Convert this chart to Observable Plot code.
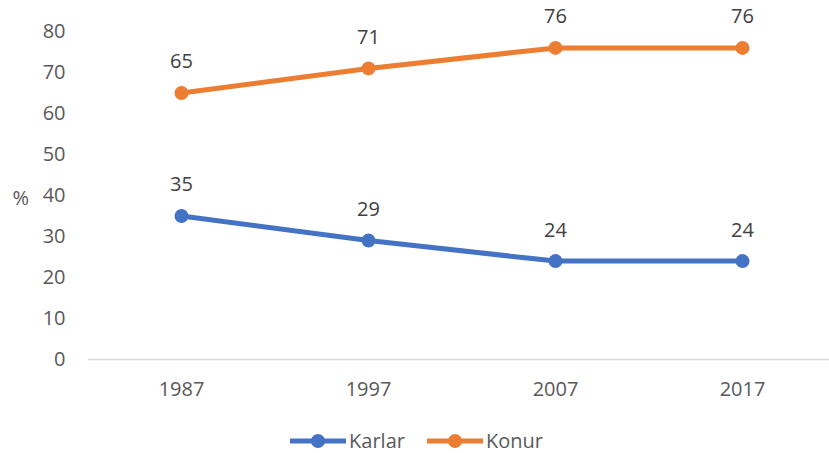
<!DOCTYPE html>
<html><head><meta charset="utf-8">
<script src="https://cdn.jsdelivr.net/npm/d3@7"></script>
<script src="https://cdn.jsdelivr.net/npm/@observablehq/plot@0.6"></script>
<style>
body{margin:0;background:#fff;font-family:"Open Sans",sans-serif;overflow:hidden;}
#chart svg{display:block;}
#legend{display:flex;justify-content:center;align-items:center;gap:22px;height:25px;line-height:25px;font-size:20px;color:#595959;margin-left:4px;}
.item{display:flex;align-items:center;gap:3px;}
</style></head><body>
<div id="chart"></div>
<div id="legend"></div>
<script>
const years = ["1987","1997","2007","2017"];
const karlar = [35,29,24,24];
const konur = [65,71,76,76];
const seriesNames = ["Karlar","Konur"];
const colors = ["#4472C4","#ED7D31"];
const yTicks = [0,10,20,30,40,50,60,70,80];

const data = [];
years.forEach((y,i)=>{data.push({year:y,value:karlar[i],s:"Karlar"});});
years.forEach((y,i)=>{data.push({year:y,value:konur[i],s:"Konur"});});

const H = 428;
const chart = Plot.plot({
  width:829, height:H,
  marginLeft:88, marginRight:0, marginTop:0, marginBottom:0,
  style:{fontFamily:"Open Sans, sans-serif", fontSize:"20px", color:"#595959", background:"#fff"},
  x:{type:"point", domain:years, range:[181,742], padding:0, label:null},
  y:{domain:[0,80], range:[359,31], label:null},
  color:{domain:seriesNames, range:colors},
  marks:[
    Plot.ruleY([0],{stroke:"#d9d9d9", strokeWidth:1.5}),
    Plot.axisY({ticks:yTicks, tickSize:0, tickPadding:23, fill:"#595959", fontSize:20}),
    Plot.axisX({tickSize:0, tickPadding:22, fill:"#595959", fontSize:20, anchor:"bottom", dy:-(H-359)}),
    Plot.text(["%"],{frameAnchor:"left", x:null, y:null, dx:-76, dy:-16, fill:"#595959", fontSize:20}),
    Plot.line(data,{x:"year", y:"value", z:"s", stroke:"s", strokeWidth:5}),
    Plot.dot(data,{x:"year", y:"value", fill:"s", r:7}),
    Plot.text(data,{x:"year", y:"value", text:d=>String(d.value), dy:-31, fill:"#404040", fontSize:20})
  ]
});
document.getElementById("chart").appendChild(chart);

const leg = document.getElementById("legend");
seriesNames.forEach((n,i)=>{
  const it = document.createElement("div"); it.className="item";
  it.innerHTML = `<svg width="56" height="16"><line x1="0" y1="8" x2="56" y2="8" stroke="${colors[i]}" stroke-width="5"/><circle cx="28" cy="8" r="7" fill="${colors[i]}"/></svg><span>${n}</span>`;
  leg.appendChild(it);
});
</script></body></html>
